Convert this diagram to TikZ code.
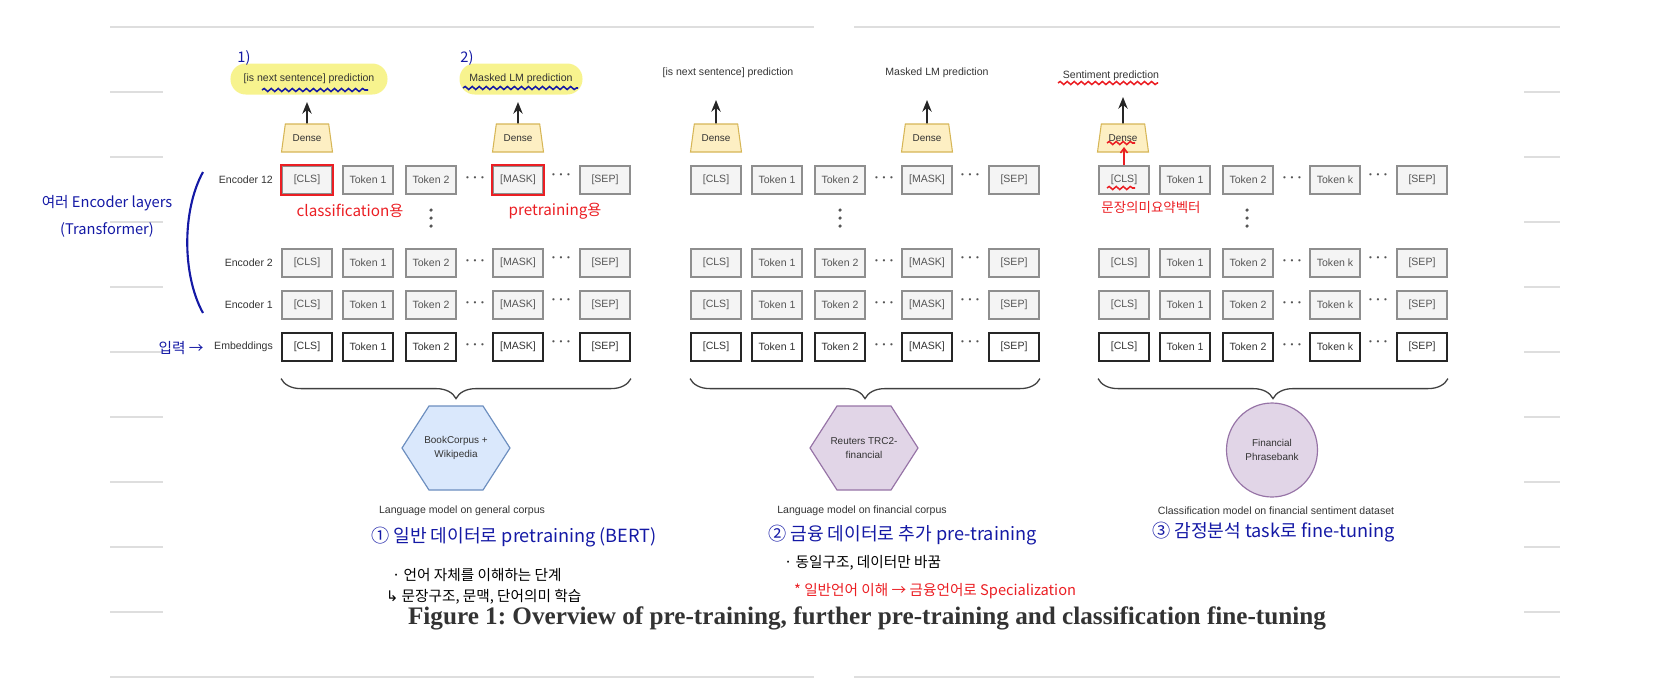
\documentclass[tikz,border=0pt]{standalone}
\usepackage{fontspec}
\setmainfont{Liberation Sans}
\newfontfamily\capfont{Liberation Serif}
\newfontfamily\hand{Noto Sans CJK KR}
\newfontfamily\symf{DejaVu Sans}
\usetikzlibrary{shapes.geometric,arrows.meta,decorations.pathreplacing,decorations.pathmorphing}

\definecolor{tokfill}{HTML}{F4F4F4}
\definecolor{tokdraw}{HTML}{8E8E8E}
\definecolor{tokgray}{HTML}{555555}
\definecolor{txtgray}{HTML}{333333}
\definecolor{densefill}{HTML}{FDEFC3}
\definecolor{densedraw}{HTML}{D6B656}
\definecolor{bluefill}{HTML}{DAE8FC}
\definecolor{bluedraw}{HTML}{6C8EBF}
\definecolor{purpfill}{HTML}{E1D5E7}
\definecolor{purpdraw}{HTML}{9673A6}
\definecolor{hlyellow}{HTML}{F7F38E}
\definecolor{penblue}{RGB}{20,25,165}
\definecolor{penred}{RGB}{235,30,35}
\definecolor{paperline}{HTML}{DEDEDE}

\begin{document}
\begin{tikzpicture}[x=0.03cm,y=-0.03cm]
  \tikzstyle{token}=[rectangle,draw=tokdraw,fill=tokfill,line width=1.2pt,minimum width=1.5cm,minimum height=0.84cm,inner sep=0pt,text=tokgray,font=\fontsize{9}{10}\selectfont]
  \tikzstyle{embed}=[token,draw=black!85,fill=white,line width=1.6pt,text=txtgray]
  \tikzstyle{redbox}=[draw=penred,line width=1.8pt]
  \tikzstyle{dense}=[trapezium,trapezium angle=70,trapezium stretches=true,minimum width=1.53cm,minimum height=0.84cm,inner sep=0pt,draw=densedraw,fill=densefill,line width=0.9pt,text=txtgray,font=\fontsize{8.5}{10}\selectfont]
  \tikzstyle{lbl}=[text=txtgray,font=\fontsize{9}{10}\selectfont]
  \tikzstyle{hdots}=[text=tokgray,font=\fontsize{7}{8}\selectfont]
  \tikzstyle{marker}=[fill=hlyellow,rounded corners=13pt,minimum height=0.93cm]
  \tikzstyle{outarrow}=[-{Stealth[length=10pt,width=8pt]},line width=1.5pt,black!85]
  \tikzstyle{curly}=[decorate,decoration={brace,mirror,amplitude=0.6cm},line width=1.1pt,black!75]
  \tikzstyle{hexblue}=[draw=bluedraw,fill=bluefill,line width=1pt]
  \tikzstyle{hexpurple}=[draw=purpdraw,fill=purpfill,line width=1pt]
  \tikzstyle{shapetxt}=[text=txtgray,align=center,font=\fontsize{8.5}{12}\selectfont]
  \tikzstyle{pen}=[font=\hand\fontsize{12.5}{15}\selectfont]
  \tikzstyle{bluepen}=[pen,text=penblue]
  \tikzstyle{redpen}=[pen,text=penred]
  \tikzstyle{stage}=[bluepen,anchor=west,font=\hand\fontsize{15.5}{18}\selectfont]
  \tikzstyle{note}=[pen,anchor=west]
  \tikzstyle{wave}=[decorate,decoration={snake,amplitude=1.3pt,segment length=6pt},line width=1.3pt]
  \tikzstyle{paper}=[draw=paperline,line width=1.2pt]
  \tikzset{rowkind/.code={\ifnum#1=0 \tikzset{embed}\else\tikzset{token}\fi}}

  \useasboundingbox (0,0) rectangle (1668,686);

  % note paper lines
  \draw[paper] (110,27) -- (814,27) (854,27) -- (1560,27) (110,677) -- (814,677) (854,677) -- (1560,677);
  \foreach \ly in {92,157,...,612}
    \draw[paper] (110,\ly) -- (163,\ly) (1524,\ly) -- (1560,\ly);

  % three panels of token rows
  \foreach \p/\px/\mk in {a/307/{[MASK]},b/716/{[MASK]},c/1124/{Token k}} {
    \foreach \r/\ry in {12/180,2/263,1/305,0/347} {
      \node[rowkind=\r] (\p\r-cls) at (\px,\ry) {[CLS]};
      \node[rowkind=\r] (\p\r-t1) at (\px+61,\ry) {Token 1};
      \node[rowkind=\r] (\p\r-t2) at (\px+124,\ry) {Token 2};
      \node[hdots] (\p\r-d1) at (\px+168,\ry-1) {\textbullet\hspace{4pt}\textbullet\hspace{4pt}\textbullet};
      \node[rowkind=\r] (\p\r-mk) at (\px+211,\ry) {\mk};
      \node[hdots] (\p\r-d2) at (\px+254,\ry-4) {\textbullet\hspace{4pt}\textbullet\hspace{4pt}\textbullet};
      \node[rowkind=\r] (\p\r-sep) at (\px+298,\ry) {[SEP]};
    }
  }
  \foreach \vx in {431,840,1247}
    \foreach \vy in {210,218,226}
      \fill[tokgray] (\vx,\vy) circle (1.5pt);

  \node[lbl,anchor=east] (lab12) at (277,180) {Encoder 12};
  \node[lbl,anchor=east] (lab2) at (277,263) {Encoder 2};
  \node[lbl,anchor=east] (lab1) at (277,305) {Encoder 1};
  \node[lbl,anchor=east] (lab0) at (277,347) {Embeddings};

  \draw[redbox] (a12-cls.south west) rectangle (a12-cls.north east);
  \draw[redbox] (a12-mk.south west) rectangle (a12-mk.north east);

  % dense heads and outputs
  \node[lbl,marker,minimum width=4.71cm] (a-nsp) at (309,79) {[is next sentence] prediction};
  \node[lbl,marker,minimum width=3.69cm] (a-mlm) at (521,79) {Masked LM prediction};
  \node[lbl] (b-nsp) at (728,73) {[is next sentence] prediction};
  \node[lbl] (b-mlm) at (937,73) {Masked LM prediction};
  \node[lbl] (c-sent) at (1111,76) {Sentiment prediction};

  \node[dense] (a-dense1) at (307,138) {Dense};
  \node[dense] (a-dense2) at (518,138) {Dense};
  \node[dense] (b-dense1) at (716,138) {Dense};
  \node[dense] (b-dense2) at (927,138) {Dense};
  \node[dense] (c-dense) at (1123,138) {Dense};

  \coordinate (a-tip1) at (307,102);
  \coordinate (a-tip2) at (518,102);
  \coordinate (b-tip1) at (716,100);
  \coordinate (b-tip2) at (927,100);
  \coordinate (c-tip) at (1123,97);
  \draw[outarrow] (a-dense1.north) -- (a-tip1);
  \draw[outarrow] (a-dense2.north) -- (a-tip2);
  \draw[outarrow] (b-dense1.north) -- (b-tip1);
  \draw[outarrow] (b-dense2.north) -- (b-tip2);
  \draw[outarrow] (c-dense.north) -- (c-tip);

  % corpora
  \draw[curly] ([yshift=-0.5cm]a0-cls.south west) -- ([yshift=-0.5cm]a0-sep.south east);
  \draw[curly] ([yshift=-0.5cm]b0-cls.south west) -- ([yshift=-0.5cm]b0-sep.south east);
  \draw[curly] ([yshift=-0.5cm]c0-cls.south west) -- ([yshift=-0.5cm]c0-sep.south east);

  \coordinate (hexA) at (456,448);
  \draw[hexblue,shift={(hexA)}] (-54,0) -- (-27,-42) -- (27,-42) -- (54,0) -- (27,42) -- (-27,42) -- cycle;
  \node[shapetxt] (bookc) at (hexA) {BookCorpus +\\Wikipedia};
  \coordinate (hexB) at (864,448);
  \draw[hexpurple,shift={(hexB)}] (-54,0) -- (-27,-42) -- (27,-42) -- (54,0) -- (27,42) -- (-27,42) -- cycle;
  \node[shapetxt] (reuters) at (hexB) {Reuters TRC2-\\financial};
  \node[ellipse,hexpurple,shapetxt,minimum width=2.73cm,minimum height=2.82cm] (phrase) at (1272,450) {Financial\\Phrasebank};

  \node[lbl] (capA) at (462,511) {Language model on general corpus};
  \node[lbl] (capB) at (862,511) {Language model on financial corpus};
  \node[lbl] (capC) at (1276,511) {Classification model on financial sentiment dataset};

  % handwritten notes
  \node[bluepen] (num1) at (244,58) {1)};
  \node[bluepen] (num2) at (467,58) {2)};
  \draw[wave,penblue] (262,90) -- (368,90);
  \draw[wave,penblue] (463,88) -- (578,88);
  \node[bluepen,align=center,font=\hand\fontsize{12.5}{23}\selectfont] (layers) at (107,216) {여러 Encoder layers\\(Transformer)};
  \draw[penblue,line width=1.8pt] (203,172) .. controls (182,210) and (182,275) .. (203,313);
  \node[bluepen] (input) at (181,348) {입력 →};
  \node[redpen,font=\hand\fontsize{13}{15}\selectfont] (clsnote) at (350,211) {classification용};
  \node[redpen,font=\hand\fontsize{13}{15}\selectfont] (mknote) at (555,211) {pretraining용};

  \draw[wave,penred] (1058,83) -- (1158,83);
  \draw[wave,penred] (1107,143) -- (1135,143);
  \draw[wave,penred] (1107,188) -- (1135,188);
  \coordinate (c-up) at (1124,147);
  \draw[penred,line width=1.3pt,-{Straight Barb[length=4pt,width=6pt]}] (c12-cls.north) -- (c-up);
  \node[redpen,font=\hand\fontsize{11.5}{14}\selectfont] (vecnote) at (1151,207) {문장의미요약벡터};

  \node[stage] (stepA) at (367,537) {① 일반 데이터로 pretraining (BERT)};
  \node[stage] (stepB) at (764,535) {② 금융 데이터로 추가 pre-training};
  \node[stage] (stepC) at (1148,532) {③ 감정분석 task로 fine-tuning};
  \node[note] (noteA1) at (388,575) {· 언어 자체를 이해하는 단계};
  \node[note] (noteA2) at (382,597) {{\symf ↳} 문장구조, 문맥, 단어의미 학습};
  \node[note] (noteB1) at (780,563) {· 동일구조, 데이터만 바꿈};
  \node[note,text=penred] (noteB2) at (790,591) {* 일반언어 이해 → 금융언어로 Specialization};

  \node[font=\capfont\bfseries\frenchspacing\fontsize{21.5}{24}\selectfont,text=black!80] (caption) at (867,618) {Figure 1: Overview of pre-training, further pre-training and classification fine-tuning};
\end{tikzpicture}
\end{document}
